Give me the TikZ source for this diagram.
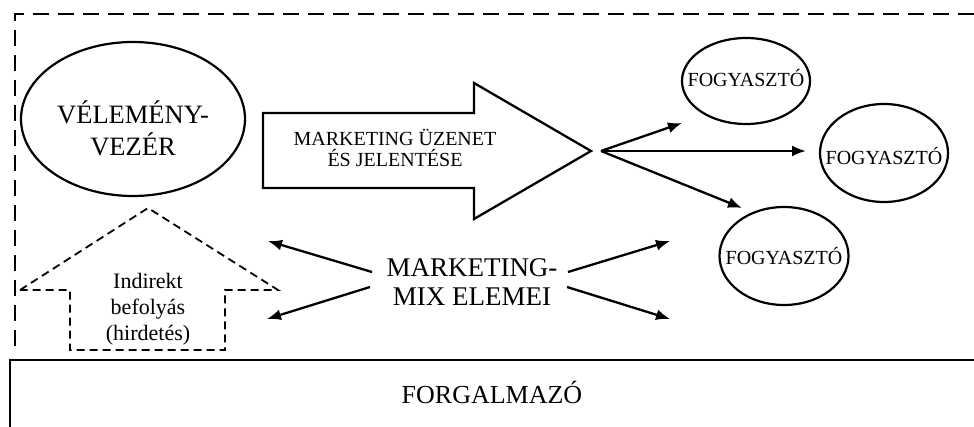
\documentclass[tikz,border=0pt]{standalone}
\usepackage{fontspec}
\setmainfont{Liberation Serif}
\usetikzlibrary{arrows.meta,shapes.geometric}
\begin{document}
\begin{tikzpicture}[x=1pt,y=-1pt,
  solidline/.style={line width=2.3pt},
  frame/.style={line width=2.3pt, dash pattern=on 16pt off 9pt},
  housedash/.style={line width=1.8pt, dash pattern=on 8pt off 5pt},
  oval/.style={ellipse, draw, line width=2.2pt, inner sep=0pt},
  flow/.style={line width=2.3pt, -{Latex[length=14pt,width=11pt]}},
  lbl/.style={align=center, inner sep=0pt}
]
\useasboundingbox (0,0) rectangle (974,427);
\clip (0,0) rectangle (974,427);

% outer dashed frame (open on the right)
\draw[frame] (974,14) -- (15,14) -- (15,350);

% distributor box running off the page
\draw[solidline] (990,360) -- (10,360) -- (10,440);
\node[lbl, font=\fontsize{26}{30}\selectfont] (dist) at (492,392) {FORGALMAZÓ};

% opinion leader
\node[oval, minimum width=224pt, minimum height=154pt] (leader) at (133,119) {};
\node[lbl, font=\fontsize{26.5}{32}\selectfont] (leadertext) at (133,128) {VÉLEMÉNY-\\VEZÉR};

% indirect influence (dashed house)
\draw[housedash] (20,290) -- (148,208) -- (278,290) -- (225,290) -- (225,350)
  -- (70,350) -- (70,290) -- cycle;
\node[lbl, font=\fontsize{22}{26}\selectfont] (indirect) at (148,309) {Indirekt\\befolyás\\(hirdetés)};

% marketing message block arrow
\draw[solidline, line join=miter] (263,113) -- (474,113) -- (474,83) -- (591,151)
  -- (474,219) -- (474,188) -- (263,188) -- cycle;
\node[lbl, font=\fontsize{20}{21.5}\selectfont] (message) at (395,148) {MARKETING ÜZENET\\ÉS JELENTÉSE};

% consumers
\node[oval, minimum width=128pt, minimum height=86pt] (c1) at (746,81) {};
\node[lbl, font=\fontsize{20}{22}\selectfont] at (746,78) {FOGYASZTÓ};
\node[oval, minimum width=128pt, minimum height=98pt] (c2) at (884,153) {};
\node[lbl, font=\fontsize{20}{22}\selectfont] at (884,156) {FOGYASZTÓ};
\node[oval, minimum width=129pt, minimum height=98pt] (c3) at (784,256) {};
\node[lbl, font=\fontsize{20}{22}\selectfont] at (784,256) {FOGYASZTÓ};

% fan of message arrows
\coordinate (fan) at (601,151);
\coordinate (t1) at (682,123);
\coordinate (t2) at (806,151);
\coordinate (t3) at (742,208);
\draw[flow] (fan) -- (t1);
\draw[flow] (fan) -- (t2);
\draw[flow] (fan) -- (t3);

% marketing mix
\node[lbl, font=\fontsize{27}{29}\selectfont] (mix) at (472,282) {MARKETING-\\MIX ELEMEI};
\coordinate (mlu) at (372,272);
\coordinate (mll) at (370,287);
\coordinate (mru) at (568,272);
\coordinate (mrl) at (567,287);
\coordinate (tlu) at (268,241);
\coordinate (tll) at (267,319);
\coordinate (tru) at (670,241);
\coordinate (trl) at (670,319);
\draw[flow] (mlu) -- (tlu);
\draw[flow] (mll) -- (tll);
\draw[flow] (mru) -- (tru);
\draw[flow] (mrl) -- (trl);
\end{tikzpicture}
\end{document}
